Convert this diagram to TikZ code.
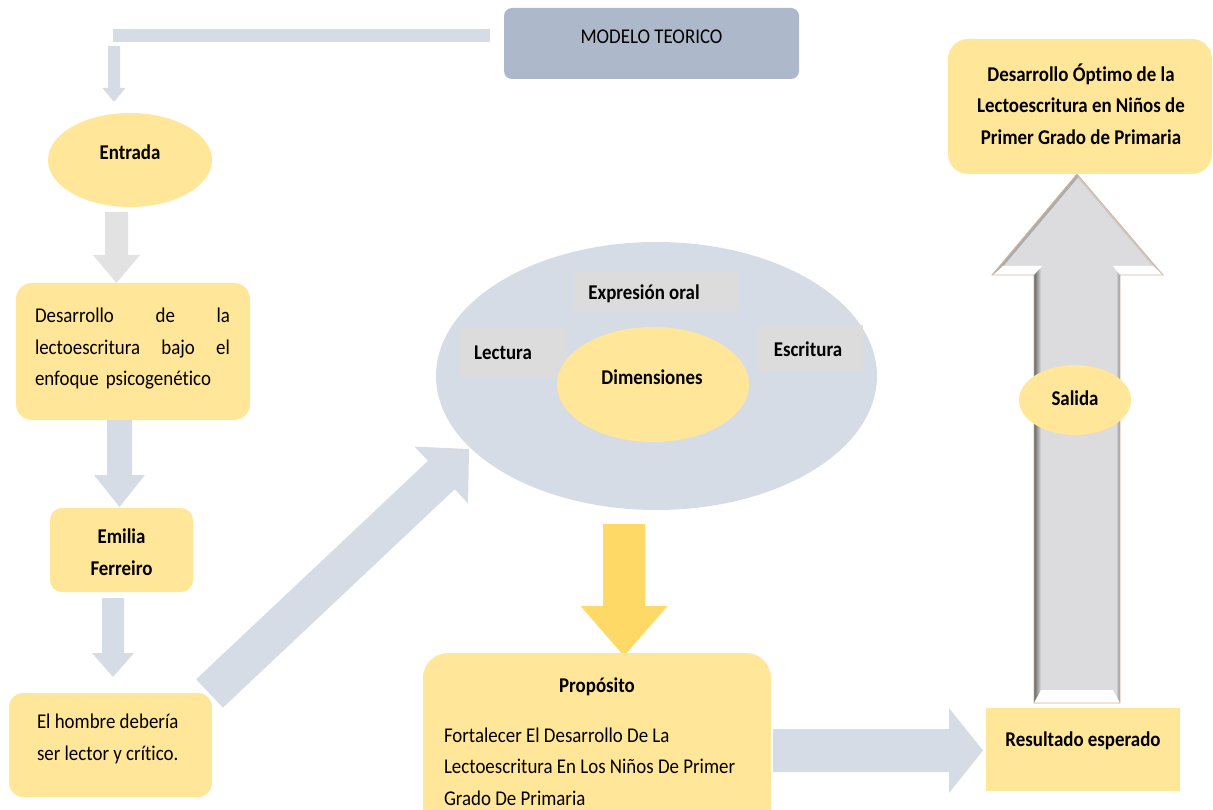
\documentclass[tikz,border=0pt]{standalone}
\usepackage{fontspec}
\setmainfont{Carlito}[FakeStretch=0.9,Ligatures=NoCommon]
\usetikzlibrary{calc,shapes.geometric}
\definecolor{yel}{HTML}{FFE699}
\definecolor{blu}{HTML}{D6DCE5}
\definecolor{modc}{HTML}{ADB9CA}
\definecolor{lgr}{HTML}{E2E2E2}
\definecolor{lab}{HTML}{DCDCDC}
\definecolor{gold}{HTML}{FFD966}
\definecolor{bigc}{HTML}{DCDBDD}
\definecolor{tan}{HTML}{D9B49A}
% block arrow: colour, from, to, shaft half width, head half width, head length
\newcommand\blockarrow[6]{%
  \coordinate (bah) at ($(#3)!#6!(#2)$);
  \fill[#1] ($(#2)!#4!90:(#3)$) -- ($(bah)!#4!90:(#3)$) -- ($(bah)!#5!90:(#3)$) -- (#3)
    -- ($(bah)!#5!-90:(#3)$) -- ($(bah)!#4!-90:(#3)$) -- ($(#2)!#4!-90:(#3)$) -- cycle;}
\begin{document}
\begin{tikzpicture}[x=1pt,y=-1pt,
  every node/.style={inner sep=0pt,outer sep=0pt},
  txt/.style={font=\fontsize{21}{31.5}\selectfont},
  btxt/.style={font=\fontsize{21}{31.5}\selectfont\bfseries},
  ybox/.style={rectangle,fill=yel},
  yell/.style={ellipse,fill=yel},
  labbox/.style={rectangle,fill=lab}]
\useasboundingbox (0,0) rectangle (1213,810);
\clip (0,0) rectangle (1213,810);

% ---------- top: modelo teorico ----------
\node[rectangle,rounded corners=8pt,fill=modc,minimum width=295pt,minimum height=71pt] (mod) at (651.5,43.5) {};
\node[txt] (modt) at (651.5,37) {MODELO TEORICO};
\fill[blu] (113,29) rectangle (490,42);
\coordinate (a0s) at (114,46);
\coordinate (a0e) at (114,102);
\blockarrow{blu}{a0s}{a0e}{6pt}{11.5pt}{14pt}

% ---------- left column ----------
\node[yell,minimum width=164pt,minimum height=94pt] (ent) at (130,160) {};
\node[btxt] (entt) at (130,152) {Entrada};

\coordinate (a1s) at (116.5,212);
\coordinate (a1e) at (116.5,283);
\blockarrow{lgr}{a1s}{a1e}{11.5pt}{23.5pt}{28pt}

\node[ybox,rounded corners=16pt,minimum width=234pt,minimum height=137pt] (des) at (133,351.5) {};
\node[txt,text width=195pt,align=left] (dest) at (132.5,349) {%
  \makebox[195pt]{Desarrollo\hfill de\hfill la}\\
  \makebox[195pt]{lectoescritura\hfill bajo\hfill el}\\
  enfoque psicogenético};

\coordinate (a2s) at (119.5,420);
\coordinate (a2e) at (119.5,507);
\blockarrow{blu}{a2s}{a2e}{12.5pt}{25.5pt}{32pt}

\node[ybox,rounded corners=12pt,minimum width=143pt,minimum height=84pt] (emi) at (121.5,550) {};
\node[btxt,align=center] (emit) at (121.5,552) {Emilia\\Ferreiro};

\coordinate (a3s) at (113,598);
\coordinate (a3e) at (113,677);
\blockarrow{blu}{a3s}{a3e}{11pt}{21pt}{24pt}

\node[ybox,rounded corners=14pt,minimum width=203pt,minimum height=104pt] (hom) at (110.5,745) {};
\node[txt,align=left,anchor=west] (homt) at (37,739) {El hombre debería\\ser lector y crítico.};

% ---------- dimensiones ----------
\node[ellipse,fill=blu,minimum width=441pt,minimum height=268pt] (big) at (656.5,376) {};
\node[labbox,minimum width=164pt,minimum height=40pt] (expr) at (655,291) {};
\node[btxt] (exprt) at (644,294) {Expresión oral};
\node[labbox,minimum width=107pt,minimum height=50pt] (lec) at (513.5,353) {};
\node[btxt] (lect) at (503,353) {Lectura};
\node[labbox,minimum width=105pt,minimum height=46pt] (esc) at (810.5,348) {};
\node[btxt] (esct) at (808,349) {Escritura};
\node[yell,minimum width=192pt,minimum height=115pt] (dim) at (653,384.5) {};
\node[btxt] (dimt) at (652,377) {Dimensiones};

\coordinate (a4s) at (209.5,693.5);
\coordinate (a4e) at (469,449);
\blockarrow{blu}{a4s}{a4e}{19.5pt}{39pt}{38pt}

\coordinate (a5s) at (624,524);
\coordinate (a5e) at (624,656);
\blockarrow{gold}{a5s}{a5e}{21pt}{43.5pt}{50pt}

% ---------- proposito ----------
\node[ybox,rounded corners=25pt,minimum width=348pt,minimum height=187pt] (pro) at (597,746.5) {};
\node[btxt] (prot) at (597,687) {Propósito};
\node[txt,align=left,anchor=west] (prob) at (444,766.5) {Fortalecer El Desarrollo De La\\Lectoescritura En Los Niños De Primer\\Grado De Primaria};

\coordinate (a6s) at (773,750.5);
\coordinate (a6e) at (983,750.5);
\blockarrow{blu}{a6s}{a6e}{21.5pt}{42.5pt}{34pt}

% ---------- right column ----------
\node[ybox,minimum width=194pt,minimum height=83pt] (res) at (1083,749.5) {};
\node[btxt] (rest) at (1083,741) {Resultado esperado};

\def\bigarrowpath{(1034,703) -- (1034,275) -- (992,275) -- (1077,174) -- (1163,275) -- (1120,275) -- (1120,703) -- cycle}
\begin{scope}
  \clip \bigarrowpath;
  \fill[bigc] (985,170) rectangle (1170,710);
  \shade[left color=black!60,right color=bigc] (1034,270) rectangle (1041,703);
  \shade[left color=bigc,right color=black!45] (1116,270) rectangle (1120,703);
  \draw[black!40,line width=6pt,opacity=.7] (992,275) -- (1077,174);
  \draw[black!25,line width=4pt,opacity=.6] (1077,174) -- (1163,275);
  \fill[white] (993,275) -- (1003,266) -- (1042,266) -- (1034,275) -- cycle;
  \fill[white] (1113,266) -- (1153,266) -- (1163,275) -- (1120,275) -- cycle;
  \fill[white] (1041,690) -- (1113,690) -- (1120,703) -- (1034,703) -- cycle;
\end{scope}
\draw[tan,line width=0.8pt] \bigarrowpath;

\node[yell,minimum width=112pt,minimum height=70pt] (sal) at (1075,400) {};
\node[btxt] (salt) at (1075,398) {Salida};

\node[ybox,rounded corners=20pt,minimum width=264pt,minimum height=135pt] (opt) at (1080,106.5) {};
\node[btxt,align=center] (optt) at (1081,104) {Desarrollo Óptimo de la\\Lectoescritura en Niños de\\Primer Grado de Primaria};
\end{tikzpicture}
\end{document}
